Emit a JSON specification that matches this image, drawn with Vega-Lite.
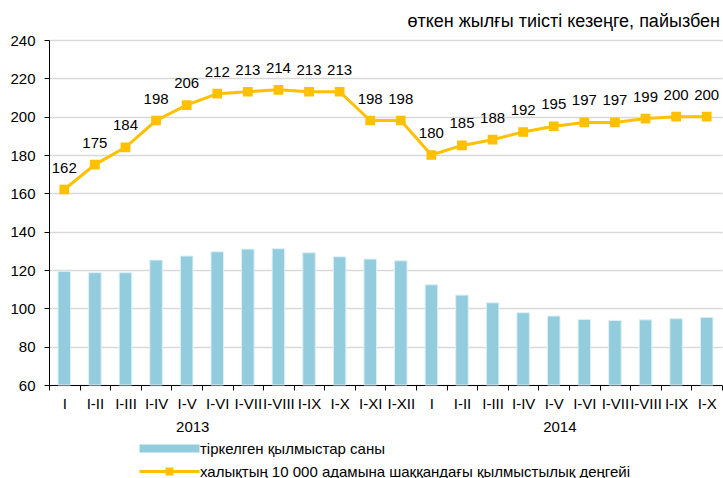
{
  "$schema": "https://vega.github.io/schema/vega-lite/v6.json",
  "autosize": {"type": "none"},
  "padding": {"left": 49, "top": 40, "right": 1, "bottom": 93},
  "width": 673,
  "height": 345,
  "background": "white",
  "title": {
    "text": "өткен жылғы тиісті кезеңге, пайызбен",
    "anchor": "end",
    "frame": "group",
    "font": "Liberation Sans",
    "fontSize": 18,
    "fontWeight": "normal",
    "color": "#000000",
    "offset": 7,
    "dx": -2,
    "dy": 5
  },
  "config": {
    "view": {"stroke": null},
    "font": "Liberation Sans",
    "axis": {"labelColor": "#000000", "domainColor": "#000000", "tickColor": "#000000", "labelFont": "Liberation Sans"},
    "legend": {"labelFont": "Liberation Sans", "labelColor": "#000000"}
  },
  "datasets": {
    "main": [
      {"key": "2013|I", "series": "тіркелген қылмыстар саны", "value": 119.3},
      {"key": "2013|I-II", "series": "тіркелген қылмыстар саны", "value": 118.6},
      {"key": "2013|I-III", "series": "тіркелген қылмыстар саны", "value": 118.6},
      {"key": "2013|I-IV", "series": "тіркелген қылмыстар саны", "value": 125.2},
      {"key": "2013|I-V", "series": "тіркелген қылмыстар саны", "value": 127.3},
      {"key": "2013|I-VI", "series": "тіркелген қылмыстар саны", "value": 129.5},
      {"key": "2013|I-VII", "series": "тіркелген қылмыстар саны", "value": 130.9},
      {"key": "2013|I-VIII", "series": "тіркелген қылмыстар саны", "value": 131.1},
      {"key": "2013|I-IX", "series": "тіркелген қылмыстар саны", "value": 129.0},
      {"key": "2013|I-X", "series": "тіркелген қылмыстар саны", "value": 126.9},
      {"key": "2013|I-XI", "series": "тіркелген қылмыстар саны", "value": 125.7},
      {"key": "2013|I-XII", "series": "тіркелген қылмыстар саны", "value": 124.8},
      {"key": "2014|I", "series": "тіркелген қылмыстар саны", "value": 112.3},
      {"key": "2014|I-II", "series": "тіркелген қылмыстар саны", "value": 106.9},
      {"key": "2014|I-III", "series": "тіркелген қылмыстар саны", "value": 102.9},
      {"key": "2014|I-IV", "series": "тіркелген қылмыстар саны", "value": 97.7},
      {"key": "2014|I-V", "series": "тіркелген қылмыстар саны", "value": 96.0},
      {"key": "2014|I-VI", "series": "тіркелген қылмыстар саны", "value": 94.2},
      {"key": "2014|I-VII", "series": "тіркелген қылмыстар саны", "value": 93.7},
      {"key": "2014|I-VIII", "series": "тіркелген қылмыстар саны", "value": 94.0},
      {"key": "2014|I-IX", "series": "тіркелген қылмыстар саны", "value": 94.6},
      {"key": "2014|I-X", "series": "тіркелген қылмыстар саны", "value": 95.3},
      {"key": "2013|I", "series": "халықтың 10 000 адамына шаққандағы қылмыстылық деңгейі", "value": 162},
      {"key": "2013|I-II", "series": "халықтың 10 000 адамына шаққандағы қылмыстылық деңгейі", "value": 175},
      {"key": "2013|I-III", "series": "халықтың 10 000 адамына шаққандағы қылмыстылық деңгейі", "value": 184},
      {"key": "2013|I-IV", "series": "халықтың 10 000 адамына шаққандағы қылмыстылық деңгейі", "value": 198},
      {"key": "2013|I-V", "series": "халықтың 10 000 адамына шаққандағы қылмыстылық деңгейі", "value": 206},
      {"key": "2013|I-VI", "series": "халықтың 10 000 адамына шаққандағы қылмыстылық деңгейі", "value": 212},
      {"key": "2013|I-VII", "series": "халықтың 10 000 адамына шаққандағы қылмыстылық деңгейі", "value": 213},
      {"key": "2013|I-VIII", "series": "халықтың 10 000 адамына шаққандағы қылмыстылық деңгейі", "value": 214},
      {"key": "2013|I-IX", "series": "халықтың 10 000 адамына шаққандағы қылмыстылық деңгейі", "value": 213},
      {"key": "2013|I-X", "series": "халықтың 10 000 адамына шаққандағы қылмыстылық деңгейі", "value": 213},
      {"key": "2013|I-XI", "series": "халықтың 10 000 адамына шаққандағы қылмыстылық деңгейі", "value": 198},
      {"key": "2013|I-XII", "series": "халықтың 10 000 адамына шаққандағы қылмыстылық деңгейі", "value": 198},
      {"key": "2014|I", "series": "халықтың 10 000 адамына шаққандағы қылмыстылық деңгейі", "value": 180},
      {"key": "2014|I-II", "series": "халықтың 10 000 адамына шаққандағы қылмыстылық деңгейі", "value": 185},
      {"key": "2014|I-III", "series": "халықтың 10 000 адамына шаққандағы қылмыстылық деңгейі", "value": 188},
      {"key": "2014|I-IV", "series": "халықтың 10 000 адамына шаққандағы қылмыстылық деңгейі", "value": 192},
      {"key": "2014|I-V", "series": "халықтың 10 000 адамына шаққандағы қылмыстылық деңгейі", "value": 195},
      {"key": "2014|I-VI", "series": "халықтың 10 000 адамына шаққандағы қылмыстылық деңгейі", "value": 197},
      {"key": "2014|I-VII", "series": "халықтың 10 000 адамына шаққандағы қылмыстылық деңгейі", "value": 197},
      {"key": "2014|I-VIII", "series": "халықтың 10 000 адамына шаққандағы қылмыстылық деңгейі", "value": 199},
      {"key": "2014|I-IX", "series": "халықтың 10 000 адамына шаққандағы қылмыстылық деңгейі", "value": 200},
      {"key": "2014|I-X", "series": "халықтың 10 000 адамына шаққандағы қылмыстылық деңгейі", "value": 200}
    ],
    "years": [
      {"key": "2013|I-V", "year": "2013"},
      {"key": "2014|I-V", "year": "2014"}
    ]
  },
  "layer": [
    {
      "data": {"name": "main"},
      "encoding": {
        "x": {
          "field": "key",
          "type": "nominal",
          "sort": null,
          "scale": {"paddingInner": 0, "paddingOuter": 0},
          "axis": {
            "title": null,
            "labelAngle": 0,
            "labelExpr": "split(datum.label, '|')[1]",
            "labelFontSize": 15,
            "labelPadding": 6,
            "tickBand": "extent",
            "tickSize": 5,
            "labelOverlap": false,
            "labelBound": false,
            "labelLimit": 0
          }
        },
        "y": {
          "field": "value",
          "type": "quantitative",
          "scale": {"domain": [60, 240], "nice": false, "zero": false},
          "axis": {
            "title": null,
            "values": [60, 80, 100, 120, 140, 160, 180, 200, 220, 240],
            "tickCount": 10,
            "labelFontSize": 15,
            "labelPadding": 9,
            "labelOverlap": false,
            "labelFlush": false,
            "tickSize": 5,
            "gridColor": "#D9D9D9",
            "gridWidth": 1.3
          }
        }
      },
      "layer": [
        {
          "transform": [{"filter": "datum.series === 'тіркелген қылмыстар саны'"}],
          "mark": {"type": "bar", "width": {"band": 0.41}, "stroke": "#DDF0F5", "strokeWidth": 1},
          "encoding": {
            "y2": {"datum": 60},
            "fill": {
              "field": "series",
              "type": "nominal",
              "scale": {"domain": ["тіркелген қылмыстар саны"], "range": ["#93CDDD"]},
              "legend": {
                "title": null,
                "orient": "none",
                "legendX": 88,
                "legendY": 401,
                "padding": 0,
                "labelFontSize": 15,
                "labelLimit": 0,
                "symbolType": "M-1,-0.8H11V0.8H-1Z",
                "symbolSize": 100,
                "symbolStrokeWidth": 0,
                "labelOffset": 48
              }
            }
          }
        },
        {
          "transform": [{"filter": "datum.series !== 'тіркелген қылмыстар саны'"}],
          "mark": {"type": "line", "strokeWidth": 3, "point": {"shape": "square", "size": 60, "filled": true, "fill": "#FFC000", "opacity": 1}},
          "encoding": {
            "stroke": {
              "field": "series",
              "type": "nominal",
              "scale": {"domain": ["халықтың 10 000 адамына шаққандағы қылмыстылық деңгейі"], "range": ["#FFC000"]},
              "legend": {
                "title": null,
                "orient": "none",
                "legendX": 88,
                "legendY": 424,
                "padding": 0,
                "labelFontSize": 15,
                "labelLimit": 0,
                "symbolType": "M-1,0H11M4.5,-0.5H5.5V0.5H4.5Z",
                "symbolSize": 100,
                "symbolStrokeWidth": 3,
                "symbolFillColor": "#FFC000",
                "labelOffset": 48,
                "encode": {"symbols": {"update": {"fill": {"value": "#FFC000"}, "opacity": {"value": 1}}}}
              }
            }
          }
        },
        {
          "transform": [{"filter": "datum.series !== 'тіркелген қылмыстар саны'"}],
          "mark": {"type": "text", "dy": -22, "fontSize": 15, "font": "Liberation Sans", "color": "#000000"},
          "encoding": {
            "text": {"field": "value", "type": "quantitative"}
          }
        }
      ]
    },
    {
      "data": {"name": "years"},
      "mark": {"type": "text", "dy": 42, "fontSize": 15, "font": "Liberation Sans", "color": "#000000", "baseline": "middle"},
      "encoding": {
        "x": {"field": "key", "type": "nominal", "sort": null, "bandPosition": 0.7},
        "y": {"datum": 60, "type": "quantitative"},
        "text": {"field": "year", "type": "nominal"}
      }
    }
  ]
}
